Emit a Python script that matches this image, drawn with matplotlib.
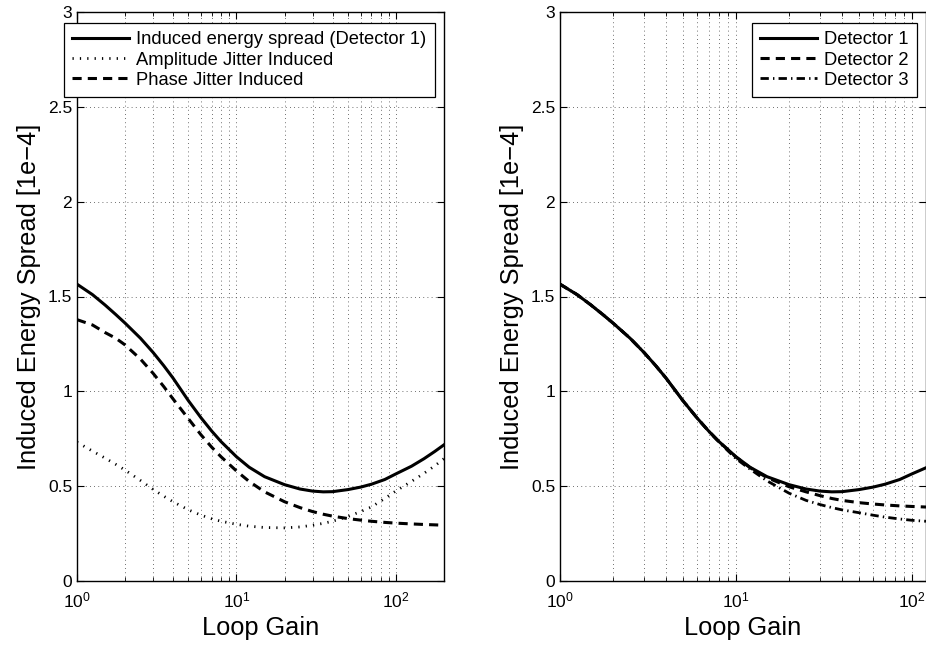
import numpy as np
import matplotlib
matplotlib.use('Agg')
import matplotlib.pyplot as plt
from matplotlib import ticker

plt.rcParams['font.family'] = ['Liberation Sans', 'DejaVu Sans']
plt.rcParams['mathtext.fontset'] = 'custom'
plt.rcParams['mathtext.rm'] = 'Liberation Sans'

# 左图数据 (Loop Gain vs. induced energy spread)
gain_left = [1, 1.25, 1.5, 1.75, 2, 2.5, 3, 3.5, 4, 5, 6, 7, 8, 10, 12, 15, 20, 25,
             30, 35, 40, 50, 60, 70, 85, 100, 125, 150, 175, 200]
total_left = [1.565, 1.51, 1.455, 1.405, 1.36, 1.28, 1.205, 1.135, 1.07, 0.95, 0.86,
              0.79, 0.735, 0.655, 0.60, 0.55, 0.508, 0.485, 0.474, 0.47, 0.471, 0.482,
              0.495, 0.51, 0.535, 0.565, 0.605, 0.645, 0.683, 0.718]
amp_left = [0.732, 0.685, 0.648, 0.615, 0.585, 0.53, 0.483, 0.447, 0.418, 0.375, 0.347,
            0.328, 0.315, 0.299, 0.289, 0.282, 0.28, 0.285, 0.294, 0.304, 0.315, 0.34,
            0.366, 0.39, 0.435, 0.475, 0.525, 0.568, 0.607, 0.645]
phase_left = [1.378, 1.35, 1.31, 1.28, 1.245, 1.17, 1.095, 1.025, 0.96, 0.855, 0.77,
              0.705, 0.655, 0.58, 0.525, 0.47, 0.418, 0.387, 0.366, 0.352, 0.342, 0.329,
              0.321, 0.315, 0.309, 0.305, 0.301, 0.298, 0.296, 0.294]

# 右图数据 (three detectors)
gain_right = [1, 1.25, 1.5, 1.75, 2, 2.5, 3, 3.5, 4, 5, 6, 7, 8, 10, 12, 15, 20, 25,
              30, 35, 40, 50, 60, 70, 85, 100, 120]
det1 = [1.565, 1.51, 1.455, 1.405, 1.36, 1.28, 1.205, 1.135, 1.07, 0.95, 0.86, 0.79,
        0.735, 0.655, 0.60, 0.55, 0.508, 0.485, 0.474, 0.47, 0.471, 0.482, 0.495, 0.51,
        0.535, 0.565, 0.597]
det2 = [1.565, 1.51, 1.455, 1.405, 1.36, 1.28, 1.205, 1.135, 1.07, 0.95, 0.86, 0.79,
        0.735, 0.653, 0.598, 0.545, 0.497, 0.47, 0.45, 0.435, 0.425, 0.413, 0.406, 0.401,
        0.396, 0.393, 0.39]
det3 = [1.565, 1.51, 1.455, 1.405, 1.36, 1.28, 1.205, 1.135, 1.07, 0.95, 0.86, 0.789,
        0.732, 0.645, 0.59, 0.528, 0.463, 0.425, 0.403, 0.387, 0.375, 0.36, 0.347, 0.337,
        0.327, 0.32, 0.315]

labels_left = ['Induced energy spread (Detector 1)', 'Amplitude Jitter Induced', 'Phase Jitter Induced']
labels_right = ['Detector 1', 'Detector 2', 'Detector 3']

fig = plt.figure(figsize=(9.26, 6.45), dpi=100)
ax1 = fig.add_axes([77 / 926, 64 / 645, 367 / 926, 569 / 645])
ax2 = fig.add_axes([560 / 926, 64 / 645, 366 / 926, 569 / 645])

dash = (0, (3, 2))
dot = (0, (0.45, 2.2))
dashdot = (0, (3, 1.5, 0.5, 1.5))

ax1.plot(gain_left, total_left, color='k', lw=2.2, ls='-', label=labels_left[0])
ax1.plot(gain_left, amp_left, color='k', lw=2.0, ls=dot, label=labels_left[1])
ax1.plot(gain_left, phase_left, color='k', lw=2.2, ls=dash, label=labels_left[2])

ax2.plot(gain_right, det1, color='k', lw=2.2, ls='-', label=labels_right[0])
ax2.plot(gain_right, det2, color='k', lw=2.2, ls=dash, label=labels_right[1])
ax2.plot(gain_right, det3, color='k', lw=2.0, ls=dashdot, label=labels_right[2])


def style_axes(ax, xmax):
    ax.set_xscale('log')
    ax.set_xlim(1, xmax)
    ax.set_ylim(0, 3)
    ax.set_yticks([0, 0.5, 1, 1.5, 2, 2.5, 3])
    ax.yaxis.set_major_formatter(ticker.FuncFormatter(lambda v, p: '%g' % v))
    ax.xaxis.set_major_locator(ticker.LogLocator(base=10))
    ax.xaxis.set_minor_locator(ticker.LogLocator(base=10, subs=np.arange(2, 10)))
    ax.xaxis.set_minor_formatter(ticker.NullFormatter())
    ax.xaxis.set_major_formatter(ticker.FuncFormatter(
        lambda v, p: r'$\mathregular{10^{%d}}$' % round(np.log10(v))))
    ax.tick_params(which='both', direction='in', top=True, right=True, labelsize=12.5)
    ax.tick_params(axis='x', which='major', pad=7)
    ax.tick_params(which='major', length=5, width=0.8)
    ax.tick_params(which='minor', length=3, width=0.6)
    ax.grid(True, which='major', color='0.25', lw=0.6, ls=(0, (1, 4)))
    ax.grid(True, which='minor', axis='x', color='0.25', lw=0.6, ls=(0, (1, 4)))
    ax.set_xlabel('Loop Gain', fontsize=18.3, labelpad=4)
    ax.set_ylabel('Induced Energy Spread [1e\u22124]', fontsize=18.3, labelpad=5)
    for s in ax.spines.values():
        s.set_linewidth(1.0)


style_axes(ax1, 200)
style_axes(ax2, 120)

leg_kw = dict(bbox_transform=fig.transFigure, loc='upper right', fontsize=13.2,
              handlelength=3.1, handletextpad=0.4, borderpad=0.45, labelspacing=0.18,
              fancybox=False, framealpha=1, edgecolor='k', borderaxespad=0)
leg1 = ax1.legend(bbox_to_anchor=(435 / 926, 1 - 23 / 645), **leg_kw)
leg1.get_frame().set_linewidth(0.9)
leg2 = ax2.legend(bbox_to_anchor=(917 / 926, 1 - 23 / 645), **leg_kw)
leg2.get_frame().set_linewidth(0.9)

fig.savefig('out.png', dpi=100, facecolor='white')
